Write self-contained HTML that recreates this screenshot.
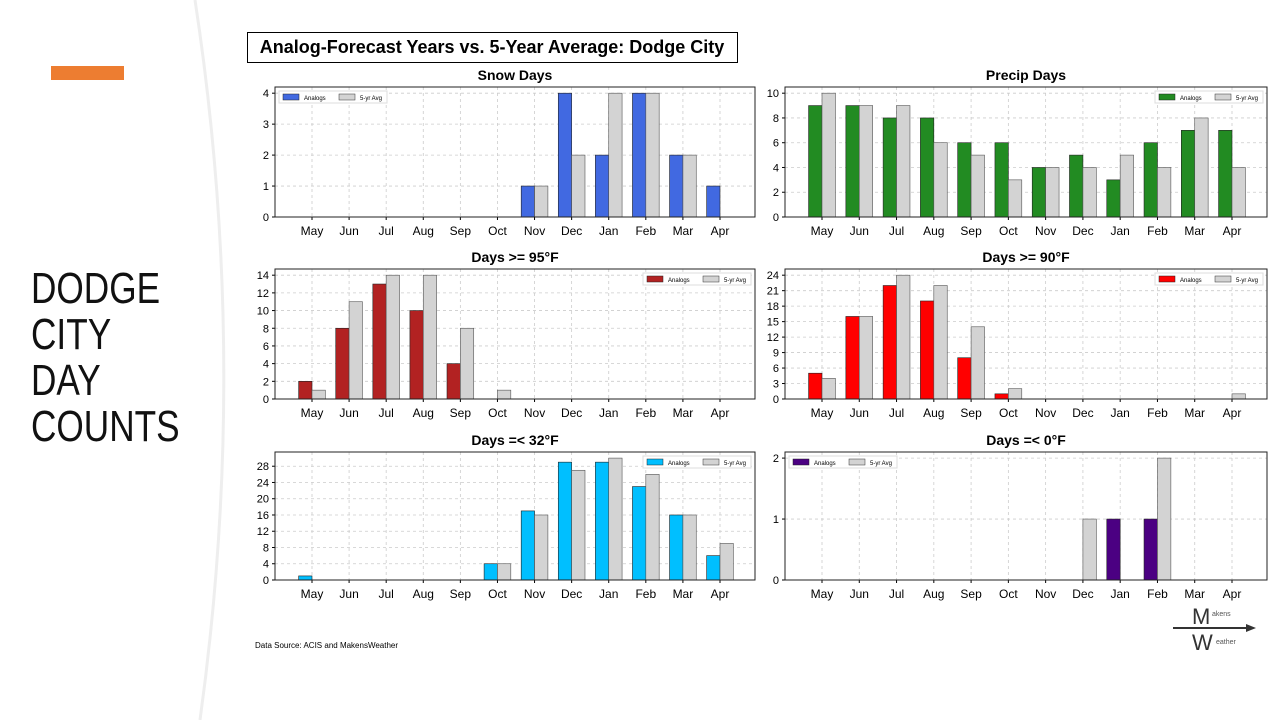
<!DOCTYPE html>
<html><head><meta charset="utf-8">
<style>
body{margin:0;width:1280px;height:720px;background:#fff;overflow:hidden;font-family:"Liberation Sans",sans-serif;position:relative}
#orange{position:absolute;left:51px;top:66px;width:73px;height:14px;background:#ed7d31}
#side{position:absolute;left:31px;top:266px;font-size:44px;line-height:46px;color:#111;transform:scaleX(0.8);transform-origin:left top;font-weight:300}
#curve{position:absolute;left:0;top:0}
svg text{font-family:"Liberation Sans",sans-serif}
</style></head><body>
<svg id="curve" width="1280" height="720"><path d="M195,0 Q250,360 200,720" fill="none" stroke="#eee" stroke-width="3"/></svg>
<div id="orange"></div>
<div id="side">DODGE<br>CITY<br>DAY<br>COUNTS</div>
<svg id="chart" width="1280" height="720" style="position:absolute;left:0;top:0">
<rect x="247.5" y="32.5" width="490" height="30" fill="#fff" stroke="#000"/>
<text x="492" y="53" font-size="18" font-weight="bold" text-anchor="middle">Analog-Forecast Years vs. 5-Year Average: Dodge City</text>
<text x="255" y="648" font-size="8">Data Source: ACIS and MakensWeather</text>
<g>
<line x1="1173" y1="628" x2="1252" y2="628" stroke="#333" stroke-width="2"/>
<path d="M1246,624 L1256,628 L1246,632Z" fill="#333"/>
<text x="1192" y="624" font-size="22" font-family="Liberation Serif" fill="#333">M</text>
<text x="1212" y="616" font-size="7" fill="#555">akens</text>
<text x="1192" y="650" font-size="22" font-family="Liberation Serif" fill="#333">W</text>
<text x="1216" y="644" font-size="7" fill="#555">eather</text>
</g>
</svg>
<script>
const months=["May","Jun","Jul","Aug","Sep","Oct","Nov","Dec","Jan","Feb","Mar","Apr"];
const snowA=[0,0,0,0,0,0,1,4,2,4,2,1];
const snowB=[0,0,0,0,0,0,1,2,4,4,2,0];
const precipA=[9,9,8,8,6,6,4,5,3,6,7,7];
const precipB=[10,9,9,6,5,3,4,4,5,4,8,4];
const hot95A=[2,8,13,10,4,0,0,0,0,0,0,0];
const hot95B=[1,11,14,14,8,1,0,0,0,0,0,0];
const hot90A=[5,16,22,19,8,1,0,0,0,0,0,0];
const hot90B=[4,16,24,22,14,2,0,0,0,0,0,1];
const frz32A=[1,0,0,0,0,4,17,29,29,23,16,6];
const frz32B=[0,0,0,0,0,4,16,27,30,26,16,9];
const zeroA=[0,0,0,0,0,0,0,0,1,1,0,0];
const zeroB=[0,0,0,0,0,0,0,1,0,2,0,0];
const snowTicks=[0,1,2,3,4],precipTicks=[0,2,4,6,8,10],t95Ticks=[0,2,4,6,8,10,12,14],t90Ticks=[0,3,6,9,12,15,18,21,24],t32Ticks=[0,4,8,12,16,20,24,28],t0Ticks=[0,1,2];
const NS="http://www.w3.org/2000/svg";
const svg=document.getElementById('chart');
function mk(tag,at,par){const e=document.createElementNS(NS,tag);for(const k in at)e.setAttribute(k,at[k]);(par||svg).appendChild(e);return e;}
function panel(name,title,x0,x1,y0,y1,A,B,ticks,color,legLeft){
  const g=mk('g',{});
  
  
  const ymax=Math.max(...A,...B)*1.05;
  const ys=v=>y1-(v/ymax)*(y1-y0);
  const m0=x0+37,m1=x1-35,step=(m1-m0)/11;
  const xs=i=>m0+i*step;
  const bw=step*0.36;
  const t=mk('text',{x:(x0+x1)/2,y:y0-7,'font-size':14,'font-weight':'bold','text-anchor':'middle'},g);
  t.textContent=title;
  
  
  ticks.forEach(v=>{
    mk('line',{x1:x0,x2:x1,y1:ys(v),y2:ys(v),stroke:'#ccc','stroke-dasharray':'3,3','stroke-width':0.8},g);
    mk('line',{x1:x0-3,x2:x0,y1:ys(v),y2:ys(v),stroke:'#000'},g);
    const l=mk('text',{x:x0-6,y:ys(v)+4,'font-size':11,'text-anchor':'end'},g);l.textContent=v;
    
    
  });
  months.forEach((m,i)=>{
    mk('line',{x1:xs(i),x2:xs(i),y1:y0,y2:y1,stroke:'#ccc','stroke-dasharray':'3,3','stroke-width':0.8},g);
    mk('line',{x1:xs(i),x2:xs(i),y1:y1,y2:y1+3,stroke:'#000'},g);
    const l=mk('text',{x:xs(i),y:y1+18,'font-size':12,'text-anchor':'middle'},g);l.textContent=m;
    
    
  });
  months.forEach((m,i)=>{
    if(A[i]>0){const r=mk('rect',{x:xs(i)-bw,y:ys(A[i]),width:bw,height:y1-ys(A[i]),fill:color,stroke:'#222','stroke-width':0.6},g);
      
      }
    if(B[i]>0){const r=mk('rect',{x:xs(i),y:ys(B[i]),width:bw,height:y1-ys(B[i]),fill:'#d3d3d3',stroke:'#555','stroke-width':0.6},g);
      
      }
  });
  mk('rect',{x:x0,y:y0,width:x1-x0,height:y1-y0,fill:'none',stroke:'#222','stroke-width':1},g);
  const lx=legLeft?x0+4:x1-112, ly=y0+4;
  const lg=mk('g',{},g);
  
  
  mk('rect',{x:lx,y:ly,width:108,height:12,fill:'#fff',stroke:'#ddd'},lg);
  mk('rect',{x:lx+4,y:ly+3,width:16,height:6,fill:color,stroke:'#222','stroke-width':0.5},lg);
  const a=mk('text',{x:lx+25,y:ly+9,'font-size':6},lg);a.textContent='Analogs';
  mk('rect',{x:lx+60,y:ly+3,width:16,height:6,fill:'#d3d3d3',stroke:'#333','stroke-width':0.5},lg);
  const b=mk('text',{x:lx+81,y:ly+9,'font-size':6},lg);b.textContent='5-yr Avg';
}
panel('snow-days','Snow Days',275,755,87,217,snowA,snowB,snowTicks,'#4169e1',true);
panel('precip-days','Precip Days',785,1267,87,217,precipA,precipB,precipTicks,'#228b22',false);
panel('days-95','Days >= 95°F',275,755,269,399,hot95A,hot95B,t95Ticks,'#b22222',false);
panel('days-90','Days >= 90°F',785,1267,269,399,hot90A,hot90B,t90Ticks,'#ff0000',false);
panel('days-32','Days =< 32°F',275,755,452,580,frz32A,frz32B,t32Ticks,'#00bfff',false);
panel('days-0','Days =< 0°F',785,1267,452,580,zeroA,zeroB,t0Ticks,'#4b0082',true);
</script>
</body></html>
